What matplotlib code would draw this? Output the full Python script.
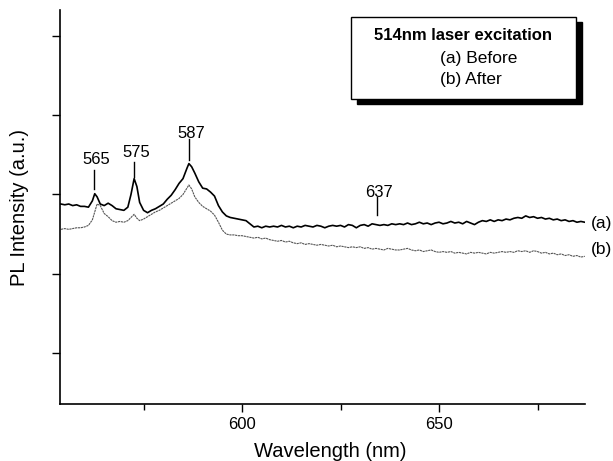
import matplotlib
matplotlib.use("Agg")
import matplotlib.pyplot as plt
from matplotlib.patches import Rectangle

plt.rcParams['font.family'] = ['Liberation Sans', 'DejaVu Sans']

wavelength = [554, 555, 556, 557, 558, 559, 560, 561, 562, 562.6, 563.2, 564, 565, 566, 567, 568,
              569, 570, 571, 571.8, 572.6, 573.3, 574, 575, 576, 577, 578, 579, 580, 581, 582, 583,
              584, 585, 586, 586.5, 587.2, 588, 589, 590, 591, 592, 593, 594, 595, 596,
              597, 598, 599, 600, 601, 602, 603, 604, 605, 606, 607, 608, 609, 610, 611, 612,
              613, 614, 615, 616, 617, 618, 619, 620, 621, 622, 623, 624, 625, 626, 627, 628,
              629, 630, 631, 632, 633, 634, 635, 636, 637, 638, 639, 640, 641, 642, 643, 644,
              645, 646, 647, 648, 649, 650, 651, 652, 653, 654, 655, 656, 657, 658, 659, 660,
              661, 662, 663, 664, 665, 666, 667, 668, 669, 670, 671, 672, 673, 674, 675, 676,
              677, 678, 679, 680, 681, 682, 683, 684, 685, 686, 687]

before = [2.88, 2.87, 2.88, 2.86, 2.87, 2.85, 2.85, 2.84, 2.92, 3.01, 2.97, 2.88, 2.86, 2.89, 2.86, 2.82,
          2.81, 2.80, 2.84, 3.00, 3.20, 3.10, 2.90, 2.80, 2.77, 2.80, 2.82, 2.85, 2.88, 2.94, 2.99, 3.06,
          3.14, 3.20, 3.33, 3.39, 3.35, 3.27, 3.16, 3.08, 3.07, 3.03, 2.98, 2.86, 2.78, 2.73,
          2.71, 2.70, 2.69, 2.68, 2.67, 2.63, 2.59, 2.60, 2.58, 2.60, 2.59, 2.60, 2.59, 2.61, 2.59, 2.60,
          2.58, 2.60, 2.59, 2.61, 2.60, 2.59, 2.61, 2.60, 2.58, 2.60, 2.61, 2.60, 2.61, 2.59, 2.62, 2.61,
          2.58, 2.61, 2.62, 2.60, 2.63, 2.62, 2.61, 2.62, 2.61, 2.63, 2.62, 2.63, 2.62, 2.64, 2.62, 2.63,
          2.65, 2.63, 2.64, 2.62, 2.64, 2.65, 2.63, 2.64, 2.66, 2.64, 2.65, 2.63, 2.66, 2.64, 2.62, 2.65,
          2.67, 2.66, 2.68, 2.66, 2.68, 2.67, 2.69, 2.68, 2.70, 2.71, 2.70, 2.73, 2.71, 2.72, 2.70, 2.71,
          2.69, 2.70, 2.68, 2.69, 2.67, 2.68, 2.66, 2.67, 2.65, 2.66, 2.65]

after = [2.56, 2.57, 2.56, 2.57, 2.58, 2.58, 2.59, 2.61, 2.68, 2.78, 2.88, 2.86, 2.76, 2.72, 2.67, 2.65,
         2.66, 2.65, 2.67, 2.71, 2.75, 2.70, 2.67, 2.69, 2.72, 2.75, 2.78, 2.80, 2.83, 2.86, 2.89, 2.92,
         2.95, 3.00, 3.08, 3.12, 3.07, 2.97, 2.90, 2.85, 2.82, 2.79, 2.74, 2.65, 2.55, 2.50,
         2.49, 2.49, 2.48, 2.48, 2.47, 2.46, 2.45, 2.46, 2.44, 2.45, 2.43, 2.42, 2.41, 2.42, 2.40, 2.41,
         2.39, 2.38, 2.39, 2.37, 2.38, 2.37, 2.36, 2.37, 2.36, 2.35, 2.36, 2.34, 2.35, 2.34, 2.33, 2.34,
         2.33, 2.34, 2.32, 2.33, 2.31, 2.32, 2.31, 2.30, 2.32, 2.31, 2.30, 2.30, 2.31, 2.32, 2.30, 2.29,
         2.30, 2.28, 2.29, 2.30, 2.28, 2.27, 2.28, 2.27, 2.28, 2.26, 2.27, 2.26, 2.25, 2.27, 2.26, 2.27,
         2.26, 2.25, 2.27, 2.26, 2.27, 2.28, 2.27, 2.28, 2.27, 2.29, 2.28, 2.29, 2.27, 2.29, 2.28, 2.26,
         2.27, 2.25, 2.26, 2.24, 2.25, 2.23, 2.24, 2.22, 2.23, 2.21, 2.22]

peak_labels = ["565", "575", "587", "637"]
peak_pos = [562.5, 572.6, 586.5, 634.3]
peak_line_bottom = [3.07, 3.22, 3.43, 2.74]
peak_line_top = [3.31, 3.41, 3.70, 2.97]
peak_text_y = [3.44, 3.53, 3.77, 3.03]

fig = plt.figure(figsize=(6.13, 4.61), dpi=100)
ax = fig.add_axes([0.098, 0.1236, 0.856, 0.854])

ax.plot(wavelength, before, color='black', lw=1.2)
ax.plot(wavelength, after, color='#555555', lw=0.8, ls=(0, (2, 0.6)))

for lab, x, y0, y1, yt in zip(peak_labels, peak_pos, peak_line_bottom, peak_line_top, peak_text_y):
    ax.plot([x, x], [y0, y1], color='black', lw=1.0)
    ax.text(x + 0.5, yt, lab, ha='center', va='center', fontsize=12)

ax.text(688.5, 2.63, "(a)", ha='left', va='center', fontsize=12.5, clip_on=False)
ax.text(688.5, 2.31, "(b)", ha='left', va='center', fontsize=12.5, clip_on=False)

ax.set_xlim(553.8, 687)
ax.set_ylim(0.356, 5.324)
ax.set_xticks([600, 650])
ax.set_xticks([575, 625, 675], minor=True)
ax.set_yticks([1, 2, 3, 4, 5])
ax.set_yticklabels([])
ax.tick_params(axis='both', direction='out', length=6, width=1, labelsize=12)
ax.tick_params(axis='x', which='minor', direction='out', length=4, width=1)
for s in ['top', 'right']:
    ax.spines[s].set_visible(False)
ax.spines['left'].set_linewidth(1.2)
ax.spines['bottom'].set_linewidth(1.2)

ax.set_xlabel("Wavelength (nm)", fontsize=14.5, labelpad=7)
ax.xaxis.label.set_x(0.515)
ax.set_ylabel("PL Intensity (a.u.)", fontsize=14.5, labelpad=13)

# legend-like box with shadow
W, H = 613.0, 461.0
bx0, bx1, by0, by1 = 351 / W, 576 / W, 1 - 99 / H, 1 - 17 / H
fig.patches.append(Rectangle((bx0 + 6 / W, by0 - 5 / H), bx1 - bx0, by1 - by0,
                             transform=fig.transFigure, facecolor='black', edgecolor='black', zorder=5))
fig.patches.append(Rectangle((bx0, by0), bx1 - bx0, by1 - by0,
                             transform=fig.transFigure, facecolor='white', edgecolor='black', lw=1.0, zorder=6))
fig.text(463 / W, 1 - 36 / H, "514nm laser excitation", ha='center', va='center', fontsize=12,
         fontweight='bold', zorder=7)
fig.text(440 / W, 1 - 58 / H, "(a) Before", ha='left', va='center', fontsize=12.5, zorder=7)
fig.text(440 / W, 1 - 79 / H, "(b) After", ha='left', va='center', fontsize=12.5, zorder=7)

fig.savefig("out.png", dpi=100)
